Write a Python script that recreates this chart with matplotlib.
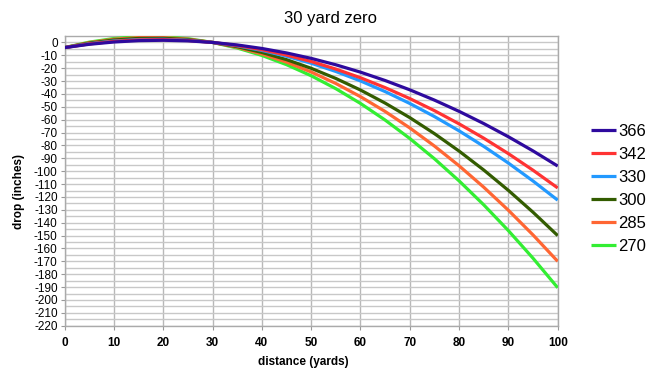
import matplotlib
matplotlib.use("Agg")
import matplotlib.pyplot as plt
import numpy as np

distance = [0, 5, 10, 15, 20, 25, 30, 35, 40, 45, 50, 55, 60, 65, 70, 75, 80, 85, 90, 95, 100]
series_labels = ["366", "342", "330", "300", "285", "270"]
drop_366 = [-4, -1.45, 0.34, 1.39, 1.68, 1.21, 0, -1.96, -4.68, -8.16, -12.38, -17.36, -23.08,
            -29.57, -36.81, -44.79, -53.53, -63.01, -73.26, -84.26, -96]
drop_342 = [-4, -1.15, 0.83, 1.93, 2.16, 1.52, 0, -2.39, -5.65, -9.8, -14.81, -20.69, -27.45,
            -35.09, -43.6, -52.98, -63.24, -74.36, -86.37, -99.25, -113]
drop_330 = [-4, -0.98, 1.10, 2.23, 2.44, 1.69, 0, -2.63, -6.2, -10.72, -16.16, -22.56, -29.9,
            -38.18, -47.4, -57.57, -68.66, -80.71, -93.7, -107.63, -122.5]
drop_300 = [-4, -0.49, 1.89, 3.12, 3.22, 2.17, 0, -3.31, -7.77, -13.36, -20.09, -27.97, -36.97,
            -47.12, -58.4, -70.83, -84.38, -99.08, -114.91, -131.89, -150]
drop_285 = [-4, -0.13, 2.46, 3.77, 3.79, 2.54, 0, -3.81, -8.91, -15.29, -22.95, -31.9, -42.12,
            -53.62, -66.4, -80.47, -95.81, -112.44, -130.34, -149.53, -170]
drop_270 = [-4, 0.24, 3.04, 4.43, 4.38, 2.9, 0, -4.33, -10.09, -17.27, -25.88, -35.92, -47.38,
            -60.29, -74.61, -90.35, -107.53, -126.13, -146.16, -167.62, -190.5]
colors = ["#2e0a9e", "#ff3333", "#2299ff", "#335c00", "#ff6633", "#33ee33"]
x_ticks = [0, 10, 20, 30, 40, 50, 60, 70, 80, 90, 100]
y_ticks = list(range(-220, 1, 10))

plt.rcParams['font.family'] = ['Liberation Sans', 'DejaVu Sans']

fig = plt.figure(figsize=(6.6, 3.85), dpi=100)
ax = fig.add_axes([0.098, 0.154, 0.747, 0.7525])

all_series = [drop_366, drop_342, drop_330, drop_300, drop_285, drop_270]
lines = {}
for lab, ys, c in reversed(list(zip(series_labels, all_series, colors))):
    ln, = ax.plot(distance, ys, color=c, lw=2.3, solid_capstyle='butt',
                  solid_joinstyle='round', label=lab, zorder=3)
    lines[lab] = ln

ax.set_xlim(0, 100)
ax.set_ylim(-220, 5)
ax.set_xticks(x_ticks)
ax.set_yticks(y_ticks)
ax.set_yticks(np.arange(-215, 5, 10), minor=True)
ax.set_xticklabels([str(v) for v in x_ticks], fontweight='bold', fontsize=8.5)
ax.set_yticklabels([str(v) for v in y_ticks], fontsize=8.5)
ax.grid(True, which='major', axis='x', color='#b8b8b8', lw=1)
ax.grid(True, which='both', axis='y', color='#c8c8c8', lw=1)
ax.set_axisbelow(True)
ax.tick_params(axis='both', which='major', length=3, color='#999999', pad=2)
ax.tick_params(axis='y', which='minor', length=0)
ax.tick_params(axis='x', pad=5)
for s in ax.spines.values():
    s.set_color('#aaaaaa')
    s.set_linewidth(1)

fig.text(0.5, 1 - 18 / 385, "30 yard zero", ha='center', va='center', fontsize=12)
fig.text(303 / 660, 1 - 362 / 385, "distance (yards)", ha='center', va='center',
         fontsize=8.5, fontweight='bold')
fig.text(19 / 660, 1 - 191 / 385, "drop (inches)", ha='center', va='center',
         fontsize=8.5, fontweight='bold', rotation=90)

handles = [lines[l] for l in series_labels]
leg = fig.legend(handles, series_labels, loc='upper left',
                 bbox_to_anchor=(584 / 660, 1 - 117 / 385), frameon=False,
                 fontsize=12, handlelength=1.5, handletextpad=0.15,
                 labelspacing=0.48, borderaxespad=0)

fig.savefig("out.png", dpi=100)
